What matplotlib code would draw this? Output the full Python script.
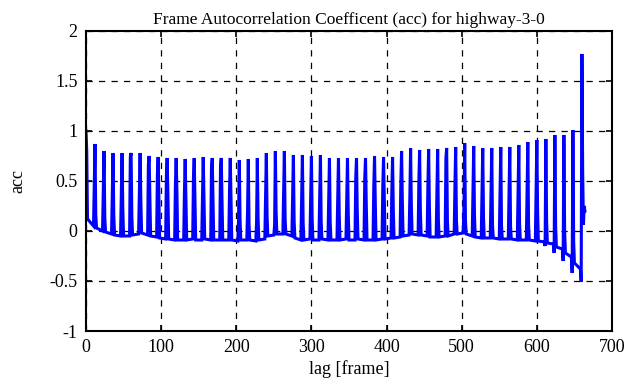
import matplotlib
matplotlib.use("Agg")
import matplotlib.pyplot as plt

# spike period in frames
period = 12

# acc at lag 12*k (k = 0..55)
peak_acc = [1.00, 0.87, 0.80, 0.78, 0.78, 0.78, 0.78, 0.75, 0.74, 0.73,
            0.73, 0.72, 0.73, 0.74, 0.73, 0.73, 0.73, 0.71, 0.72, 0.73,
            0.78, 0.80, 0.80, 0.76, 0.76, 0.75, 0.76, 0.73, 0.73, 0.73,
            0.73, 0.73, 0.75, 0.74, 0.74, 0.80, 0.83, 0.81, 0.82, 0.82,
            0.83, 0.84, 0.88, 0.85, 0.83, 0.83, 0.84, 0.84, 0.86, 0.89,
            0.91, 0.92, 0.96, 0.96, 1.01, 1.77]

# acc at lag 12*k - 1 (side bar before the spike, None = no bar)
pre_acc = [None, None, None, None, None, 0.74, None, 0.66, 0.56, 0.55,
           0.47, 0.39, 0.53, 0.30, 0.63, 0.64, 0.40, 0.10, 0.20, 0.09,
           None, 0.06, None, None, None, None, None, None, None, None,
           0.53, 0.53, 0.45, 0.45, 0.40, 0.48, 0.35, 0.50, 0.45, 0.40,
           0.73, 0.45, 0.26, None, None, None, None, None, None, None,
           None, -0.15, -0.22, -0.30, -0.42, -0.51]

# acc at lag 12*k + 1 (side bar after the spike, None = no bar)
post_acc = [0.80, 0.16, 0.14, 0.16, 0.23, 0.15, 0.31, 0.33, 0.34, 0.37,
            0.40, None, None, 0.33, None, None, None, 0.12, 0.06, 0.14,
            0.15, 0.20, 0.12, 0.10, 0.08, 0.12, 0.09, 0.09, 0.17, 0.18,
            0.20, 0.27, 0.29, 0.33, 0.20, 0.30, 0.25, 0.20, 0.25, 0.10,
            0.10, 0.10, 0.10, 0.16, 0.14, 0.06, 0.05, 0.05, 0.08, 0.06,
            0.21, 0.10, 0.05, 0.00, -0.10, 0.59]

# level between spikes, at lags 12*k + 2 and 12*k + 10
base_start = [0.12, 0.03, -0.01, -0.04, -0.05, -0.04, -0.02, -0.05, -0.07, -0.08,
              -0.09, -0.09, -0.09, -0.08, -0.09, -0.09, -0.09, -0.09, -0.09, -0.09,
              -0.05, -0.03, -0.03, -0.07, -0.09, -0.09, -0.08, -0.09, -0.09, -0.09,
              -0.08, -0.09, -0.09, -0.08, -0.07, -0.05, -0.03, -0.04, -0.06, -0.06,
              -0.05, -0.03, -0.03, -0.06, -0.07, -0.07, -0.08, -0.08, -0.09, -0.09,
              -0.10, -0.12, -0.16, -0.22, -0.32]
base_end = [0.05, 0.00, -0.03, -0.05, -0.05, -0.03, -0.04, -0.06, -0.08, -0.09,
            -0.09, -0.08, -0.09, -0.09, -0.09, -0.09, -0.10, -0.09, -0.10, -0.08,
            -0.04, -0.03, -0.05, -0.09, -0.08, -0.09, -0.09, -0.09, -0.08, -0.09,
            -0.09, -0.09, -0.08, -0.07, -0.06, -0.04, -0.04, -0.05, -0.06, -0.05,
            -0.03, -0.02, -0.05, -0.07, -0.07, -0.08, -0.08, -0.09, -0.09, -0.10,
            -0.11, -0.13, -0.18, -0.26, -0.38]

# last few lags after the final spike
tail_lag = [662, 663, 664]
tail_acc = [0.06, 0.25, 0.20]

lags = []
acc = []
for k, pk in enumerate(peak_acc):
    c = k * period
    if pre_acc[k] is not None:
        lags.append(c - 1)
        acc.append(pre_acc[k])
    lags.append(c)
    acc.append(pk)
    if post_acc[k] is not None:
        lags.append(c + 1)
        acc.append(post_acc[k])
    if k < len(base_start):
        lags += [c + 2, c + 10]
        acc += [base_start[k], base_end[k]]
lags += tail_lag
acc += tail_acc

plt.rcParams['font.family'] = ['Liberation Serif', 'DejaVu Serif']

fig = plt.figure(figsize=(6.3, 3.87), dpi=100)
ax = fig.add_axes([0.1365, 0.1447, 0.8349, 0.7753])
ax.plot(lags, acc, color='#0000ff', linewidth=2.2, solid_joinstyle='miter')

ax.set_xlim(0, 700)
ax.set_ylim(-1, 2)
ax.set_xticks(range(0, 701, 100))
ax.set_yticks([-1, -0.5, 0, 0.5, 1, 1.5, 2])
ax.set_yticklabels(['-1', '-0.5', '0', '0.5', '1', '1.5', '2'])
ax.grid(True, color='black', linestyle=(0, (5, 5)), linewidth=0.9)
ax.tick_params(direction='in', top=True, right=True, length=4, width=1.2,
               labelsize=13, pad=6)
for s in ax.spines.values():
    s.set_linewidth(1.5)

ax.set_title("Frame Autocorrelation Coefficent (acc) for highway-3-0", fontsize=12.5, pad=5)
ax.set_xlabel("lag [frame]", fontsize=13, labelpad=3)
ax.set_ylabel("acc", fontsize=13, labelpad=17)

fig.savefig("out.png", dpi=100)
